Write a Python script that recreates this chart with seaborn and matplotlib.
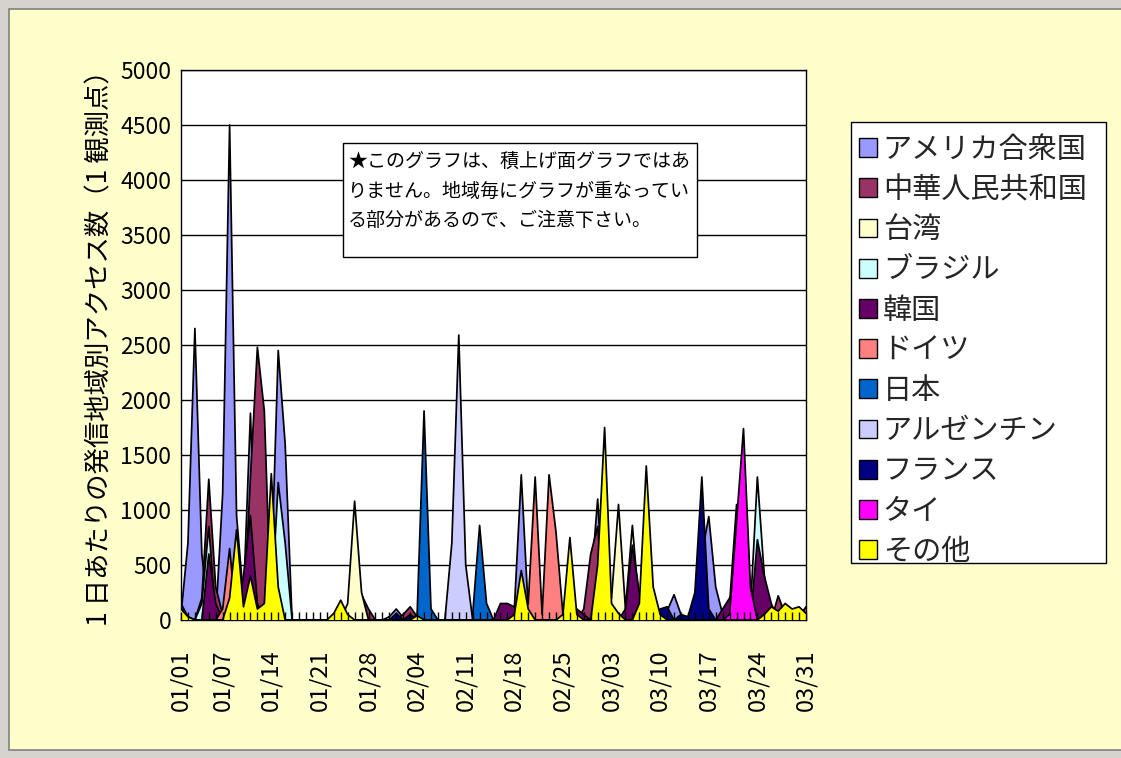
import numpy as np
import pandas as pd
import matplotlib
matplotlib.use("Agg")
import matplotlib.pyplot as plt
from matplotlib.patches import Patch, Rectangle
import seaborn as sns

# Daily access counts per region (one observation point), keyed by MM/DD.
# Days not listed are zero.
dates = pd.date_range("2004-01-01", "2004-03-31", freq="D")
day_labels = dates.strftime("%m/%d").tolist()

tick_labels = ["01/01", "01/07", "01/14", "01/21", "01/28", "02/04", "02/11",
               "02/18", "02/25", "03/03", "03/10", "03/17", "03/24", "03/31"]

regions = ["アメリカ合衆国", "中華人民共和国", "台湾", "ブラジル", "韓国", "ドイツ",
           "日本", "アルゼンチン", "フランス", "タイ", "その他"]

colors = ["#9999FF", "#993366", "#FFFFCC", "#CCFFFF", "#660066", "#FF8080",
          "#0066CC", "#CCCCFF", "#000080", "#FF00FF", "#FFFF00"]

usa = {"01/01": 50, "01/02": 700, "01/03": 2650, "01/04": 600, "01/07": 1150,
       "01/08": 4500, "01/09": 950, "01/10": 200, "01/11": 1880, "01/14": 400,
       "01/15": 2450, "01/16": 1600, "01/31": 30, "02/01": 100, "02/02": 20,
       "02/18": 100, "02/19": 1320, "02/20": 100, "02/28": 50, "02/29": 300,
       "03/01": 1100, "03/11": 80, "03/12": 230, "03/13": 50, "03/16": 600,
       "03/17": 940, "03/18": 300, "03/19": 50, "03/20": 150, "03/21": 1050}
china = {"01/04": 200, "01/05": 1280, "01/06": 300, "01/07": 50, "01/11": 1300,
         "01/12": 2480, "01/13": 1900, "01/27": 230, "01/28": 100, "02/02": 50,
         "02/03": 120, "02/04": 30, "02/17": 30, "02/28": 100, "02/29": 600,
         "03/01": 850, "03/02": 100, "03/27": 220, "03/28": 50, "03/30": 30,
         "03/31": 120}
taiwan = {"01/25": 150, "01/26": 1080, "01/27": 250, "03/03": 200, "03/04": 1050,
          "03/05": 100, "03/06": 860, "03/07": 100}
brazil = {"01/04": 150, "01/05": 850, "01/14": 100, "01/15": 1250, "01/16": 700,
          "03/23": 100, "03/24": 1300, "03/25": 400}
korea = {"01/05": 600, "01/06": 150, "01/10": 400, "01/11": 950, "01/12": 150,
         "02/16": 150, "02/17": 150, "02/18": 120, "02/22": 80, "02/27": 100,
         "02/28": 50, "03/05": 100, "03/06": 680, "03/07": 250, "03/08": 50,
         "03/19": 100, "03/20": 200, "03/21": 300, "03/22": 150, "03/24": 730,
         "03/25": 400, "03/26": 150, "03/31": 50}
germany = {"01/07": 100, "01/08": 650, "02/20": 150, "02/21": 1300, "02/22": 50,
           "02/23": 1320, "02/24": 800, "02/25": 50, "03/07": 130}
japan = {"02/04": 50, "02/05": 1900, "02/06": 100, "02/12": 50, "02/13": 860,
         "02/14": 150}
argentina = {"02/09": 700, "02/10": 2590, "02/11": 500}
france = {"01/01": 150, "01/02": 30, "02/01": 60, "02/03": 50, "03/10": 100,
          "03/11": 120, "03/13": 50, "03/14": 30, "03/15": 250, "03/16": 1300,
          "03/17": 100}
thailand = {"03/20": 50, "03/21": 900, "03/22": 1740, "03/23": 300}
others = {"01/01": 100, "01/02": 30, "01/08": 200, "01/09": 820, "01/10": 120,
          "01/11": 400, "01/12": 100, "01/13": 150, "01/14": 1330, "01/15": 300,
          "01/23": 60, "01/24": 180, "01/25": 50, "02/04": 40, "02/18": 50,
          "02/19": 450, "02/20": 100, "02/25": 50, "02/26": 750, "02/27": 50,
          "03/01": 500, "03/02": 1750, "03/03": 150, "03/04": 60, "03/07": 150,
          "03/08": 1400, "03/09": 300, "03/10": 50, "03/25": 50, "03/26": 120,
          "03/27": 80, "03/28": 150, "03/29": 100, "03/30": 120, "03/31": 60}

series = [usa, china, taiwan, brazil, korea, germany, japan, argentina,
          france, thailand, others]

note_lines = ["★このグラフは、積上げ面グラフではあ",
              "りません。地域毎にグラフが重なってい",
              "る部分があるので、ご注意下さい。"]
ylabel = "1 日あたりの発信地域別アクセス数（1 観測点）"

df = pd.DataFrame({name: pd.Series(vals) for name, vals in zip(regions, series)})
df = df.reindex(day_labels).fillna(0)
df["day"] = np.arange(len(df))

sns.set_theme(style="white")
plt.rcParams["font.family"] = ["Noto Sans CJK JP", "DejaVu Sans"]

W, H = 1121, 758
fig = plt.figure(figsize=(W / 100, H / 100), dpi=100, facecolor="#D6D3CE")
fig.patches.append(Rectangle((9 / W, 8 / H), (W - 4) / W, (H - 17) / H,
                             transform=fig.transFigure, facecolor="#FFFFCC",
                             edgecolor="#808080", linewidth=1.2, zorder=-5))

ax = fig.add_axes([181 / W, (H - 620) / H, 625 / W, 550 / H])
ax.set_facecolor("white")
ax.set_axisbelow(True)

# Overlapping (non-stacked) areas: each region filled from zero, later ones on top
for i, (name, color) in enumerate(zip(regions, colors)):
    ax.fill_between(df["day"], 0, df[name], facecolor=color, edgecolor="none",
                    zorder=3 + 2 * i)
    sns.lineplot(data=df, x="day", y=name, color="black", linewidth=1.25,
                 ax=ax, zorder=4 + 2 * i, legend=False)

ax.set_xlim(0, len(df) - 1)
ax.set_ylim(0, 5000)
ax.set_yticks(np.arange(0, 5001, 500))
ax.yaxis.grid(True, color="black", linewidth=1.0)
ax.xaxis.grid(False)
tick_pos = [day_labels.index(t) for t in tick_labels]
ax.set_xticks(tick_pos)
ax.set_xticklabels(tick_labels, rotation=90)
ax.tick_params(axis="y", length=0, pad=7, labelsize=16.5, labelcolor="black")
ax.tick_params(axis="x", length=0, pad=21, labelsize=17, labelcolor="black")
ax.set_xlabel("")
ax.set_ylabel("")
for sp in ax.spines.values():
    sp.set_color("black")
    sp.set_linewidth(1.0)

# Daily category tick marks drawn above the areas
axt = fig.add_axes(ax.get_position())
axt.patch.set_visible(False)
axt.set_xlim(ax.get_xlim())
axt.set_xticks(df["day"])
axt.set_yticks([])
axt.tick_params(axis="x", which="major", bottom=True, direction="in", length=6,
                width=1, color="black", labelbottom=False)
for sp in axt.spines.values():
    sp.set_visible(False)

fig.text(100 / W, 1 - 342 / H, ylabel, rotation=90, ha="center", va="center",
         fontsize=19, color="black")

# Legend box and its entries
fig.patches.append(Rectangle((851 / W, 1 - 563 / H), 255 / W, 441 / H,
                             transform=fig.transFigure, facecolor="white",
                             edgecolor="black", linewidth=1, zorder=5))
handles = [Patch(facecolor=c, edgecolor="black", linewidth=1) for c in colors]
leg = fig.legend(handles, regions, loc="upper left",
                 bbox_to_anchor=(853 / W, 1 - 129 / H),
                 bbox_transform=fig.transFigure, frameon=False, fontsize=21,
                 handlelength=0.62, handleheight=0.62, handletextpad=0.2,
                 labelspacing=0.35, borderpad=0.2, borderaxespad=0)
leg.set_zorder(6)

# Note box with the warning text in its upper-left part
fig.patches.append(Rectangle((343 / W, 1 - 257 / H), 354 / W, 114 / H,
                             transform=fig.transFigure, facecolor="white",
                             edgecolor="black", linewidth=1, zorder=5))
fig.text(348 / W, 1 - 152 / H, "\n".join(note_lines), ha="left", va="top",
         fontsize=13.7, linespacing=1.5, color="black", zorder=6)

fig.savefig("out.png", dpi=100, facecolor=fig.get_facecolor())
